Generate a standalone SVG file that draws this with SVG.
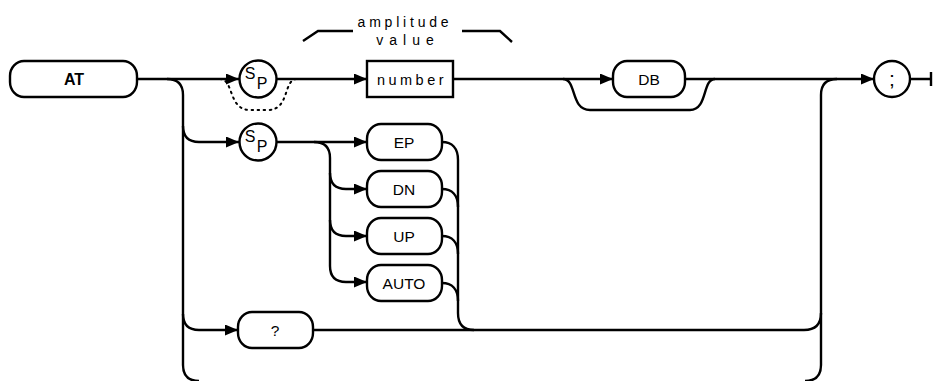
<svg xmlns="http://www.w3.org/2000/svg" width="933" height="381" viewBox="0 0 933 381">
<style>
.ln{fill:none;stroke:#000;stroke-width:2.4}
.dot{fill:none;stroke:#000;stroke-width:2;stroke-dasharray:1.5 4.5;stroke-linecap:round}
.box{fill:#fff;stroke:#000;stroke-width:2.4}
.t{font-family:"Liberation Sans",Arial,sans-serif;font-size:15.5px;fill:#000;text-anchor:middle}
.b{font-weight:bold;font-size:16px}
.sp{font-family:"Liberation Sans",Arial,sans-serif;font-size:16px;fill:#000;text-anchor:middle}
.lbl{font-family:"Liberation Sans",Arial,sans-serif;font-size:14px;fill:#000;text-anchor:middle}
</style>
<defs>
<marker id="ar" markerUnits="userSpaceOnUse" markerWidth="13" markerHeight="11" refX="13" refY="5.5" orient="auto">
<path d="M0,0 L13,5.5 L0,11 z" fill="#000"/>
</marker>
</defs>
<g id="connectors">
<path class="ln" d="M137,79 H239" marker-end="url(#ar)"/>
<path class="dot" d="M220,79 C234,79 228,110 250,110 H268 C290,110 283,79 297,79"/>
<path class="ln" d="M277,79 H367" marker-end="url(#ar)"/>
<path class="ln" d="M453,79 H613" marker-end="url(#ar)"/>
<path class="ln" d="M563,79 C577,79 570,110 590,110 H690 C708,110 702,79 715,79"/>
<path class="ln" d="M685,79 H874" marker-end="url(#ar)"/>
<path class="ln" d="M910,79 H931 M931,72 V86"/>
<path class="ln" d="M167,79 Q183,79 183,95 V365 Q183,381 199,381"/>
<path class="ln" d="M183,126 Q183,142 199,142 H239" marker-end="url(#ar)"/>
<path class="ln" d="M183,314 Q183,330 199,330 H238" marker-end="url(#ar)"/>
<path class="ln" d="M277,142 H367" marker-end="url(#ar)"/>
<path class="ln" d="M314,142 Q330,142 330,158 V266 Q330,282 346,282 H367" marker-end="url(#ar)"/>
<path class="ln" d="M330,173 Q330,189 346,189 H367" marker-end="url(#ar)"/>
<path class="ln" d="M330,220 Q330,236 346,236 H367" marker-end="url(#ar)"/>
<path class="ln" d="M442,142 C452,142 458,148 458,160 V313 Q458,330 474,330"/>
<path class="ln" d="M442,189 C452,189 458,195 458,207"/>
<path class="ln" d="M442,236 C452,236 458,242 458,254"/>
<path class="ln" d="M442,283 C452,283 458,289 458,301"/>
<path class="ln" d="M313,330 H804 Q821,330 821,313"/>
<path class="ln" d="M837,79 Q821,79 821,95 V365 Q821,381 805,381"/>
<path class="ln" d="M303,41 L318,31 H353 M462,31 H500 L512,42"/>
</g>
<g id="label-amplitude">
<text class="lbl" x="405" y="27" style="letter-spacing:3.8px">amplitude</text>
<text class="lbl" x="408" y="45" style="letter-spacing:6px">value</text>
</g>
<g id="node-AT">
<rect class="box" x="10" y="61" width="127" height="36" rx="14" ry="15"/>
<text class="t b" x="74" y="85">AT</text>
</g>
<g id="node-sp1">
<circle class="box" cx="258" cy="79" r="18.5"/>
<text class="sp" x="250" y="78.5">S</text>
<text class="sp" x="262" y="89">P</text>
</g>
<g id="node-number">
<rect class="box" x="367" y="61" width="86" height="36"/>
<text class="t" x="412" y="84.5" style="font-size:14.5px;letter-spacing:3.5px">number</text>
</g>
<g id="node-DB">
<rect class="box" x="613" y="61" width="72" height="36" rx="14" ry="15"/>
<text class="t" x="649" y="84.5">DB</text>
</g>
<g id="node-semicolon">
<circle class="box" cx="892" cy="79" r="18"/>
<text class="t" x="892" y="86" style="font-size:21px">;</text>
</g>
<g id="node-sp2">
<circle class="box" cx="258" cy="142" r="18.5"/>
<text class="sp" x="250" y="141.5">S</text>
<text class="sp" x="262" y="152">P</text>
</g>
<g id="node-EP">
<rect class="box" x="367" y="124" width="75" height="36" rx="14" ry="15"/>
<text class="t" x="404" y="147.5">EP</text>
</g>
<g id="node-DN">
<rect class="box" x="367" y="171" width="75" height="36" rx="14" ry="15"/>
<text class="t" x="404" y="194.5">DN</text>
</g>
<g id="node-UP">
<rect class="box" x="367" y="218" width="75" height="36" rx="14" ry="15"/>
<text class="t" x="404" y="241.5">UP</text>
</g>
<g id="node-AUTO">
<rect class="box" x="367" y="265" width="75" height="36" rx="14" ry="15"/>
<text class="t" x="404" y="288.5">AUTO</text>
</g>
<g id="node-query">
<rect class="box" x="238" y="312" width="75" height="36" rx="14" ry="15"/>
<text class="t" x="275" y="335.5">?</text>
</g>
</svg>
